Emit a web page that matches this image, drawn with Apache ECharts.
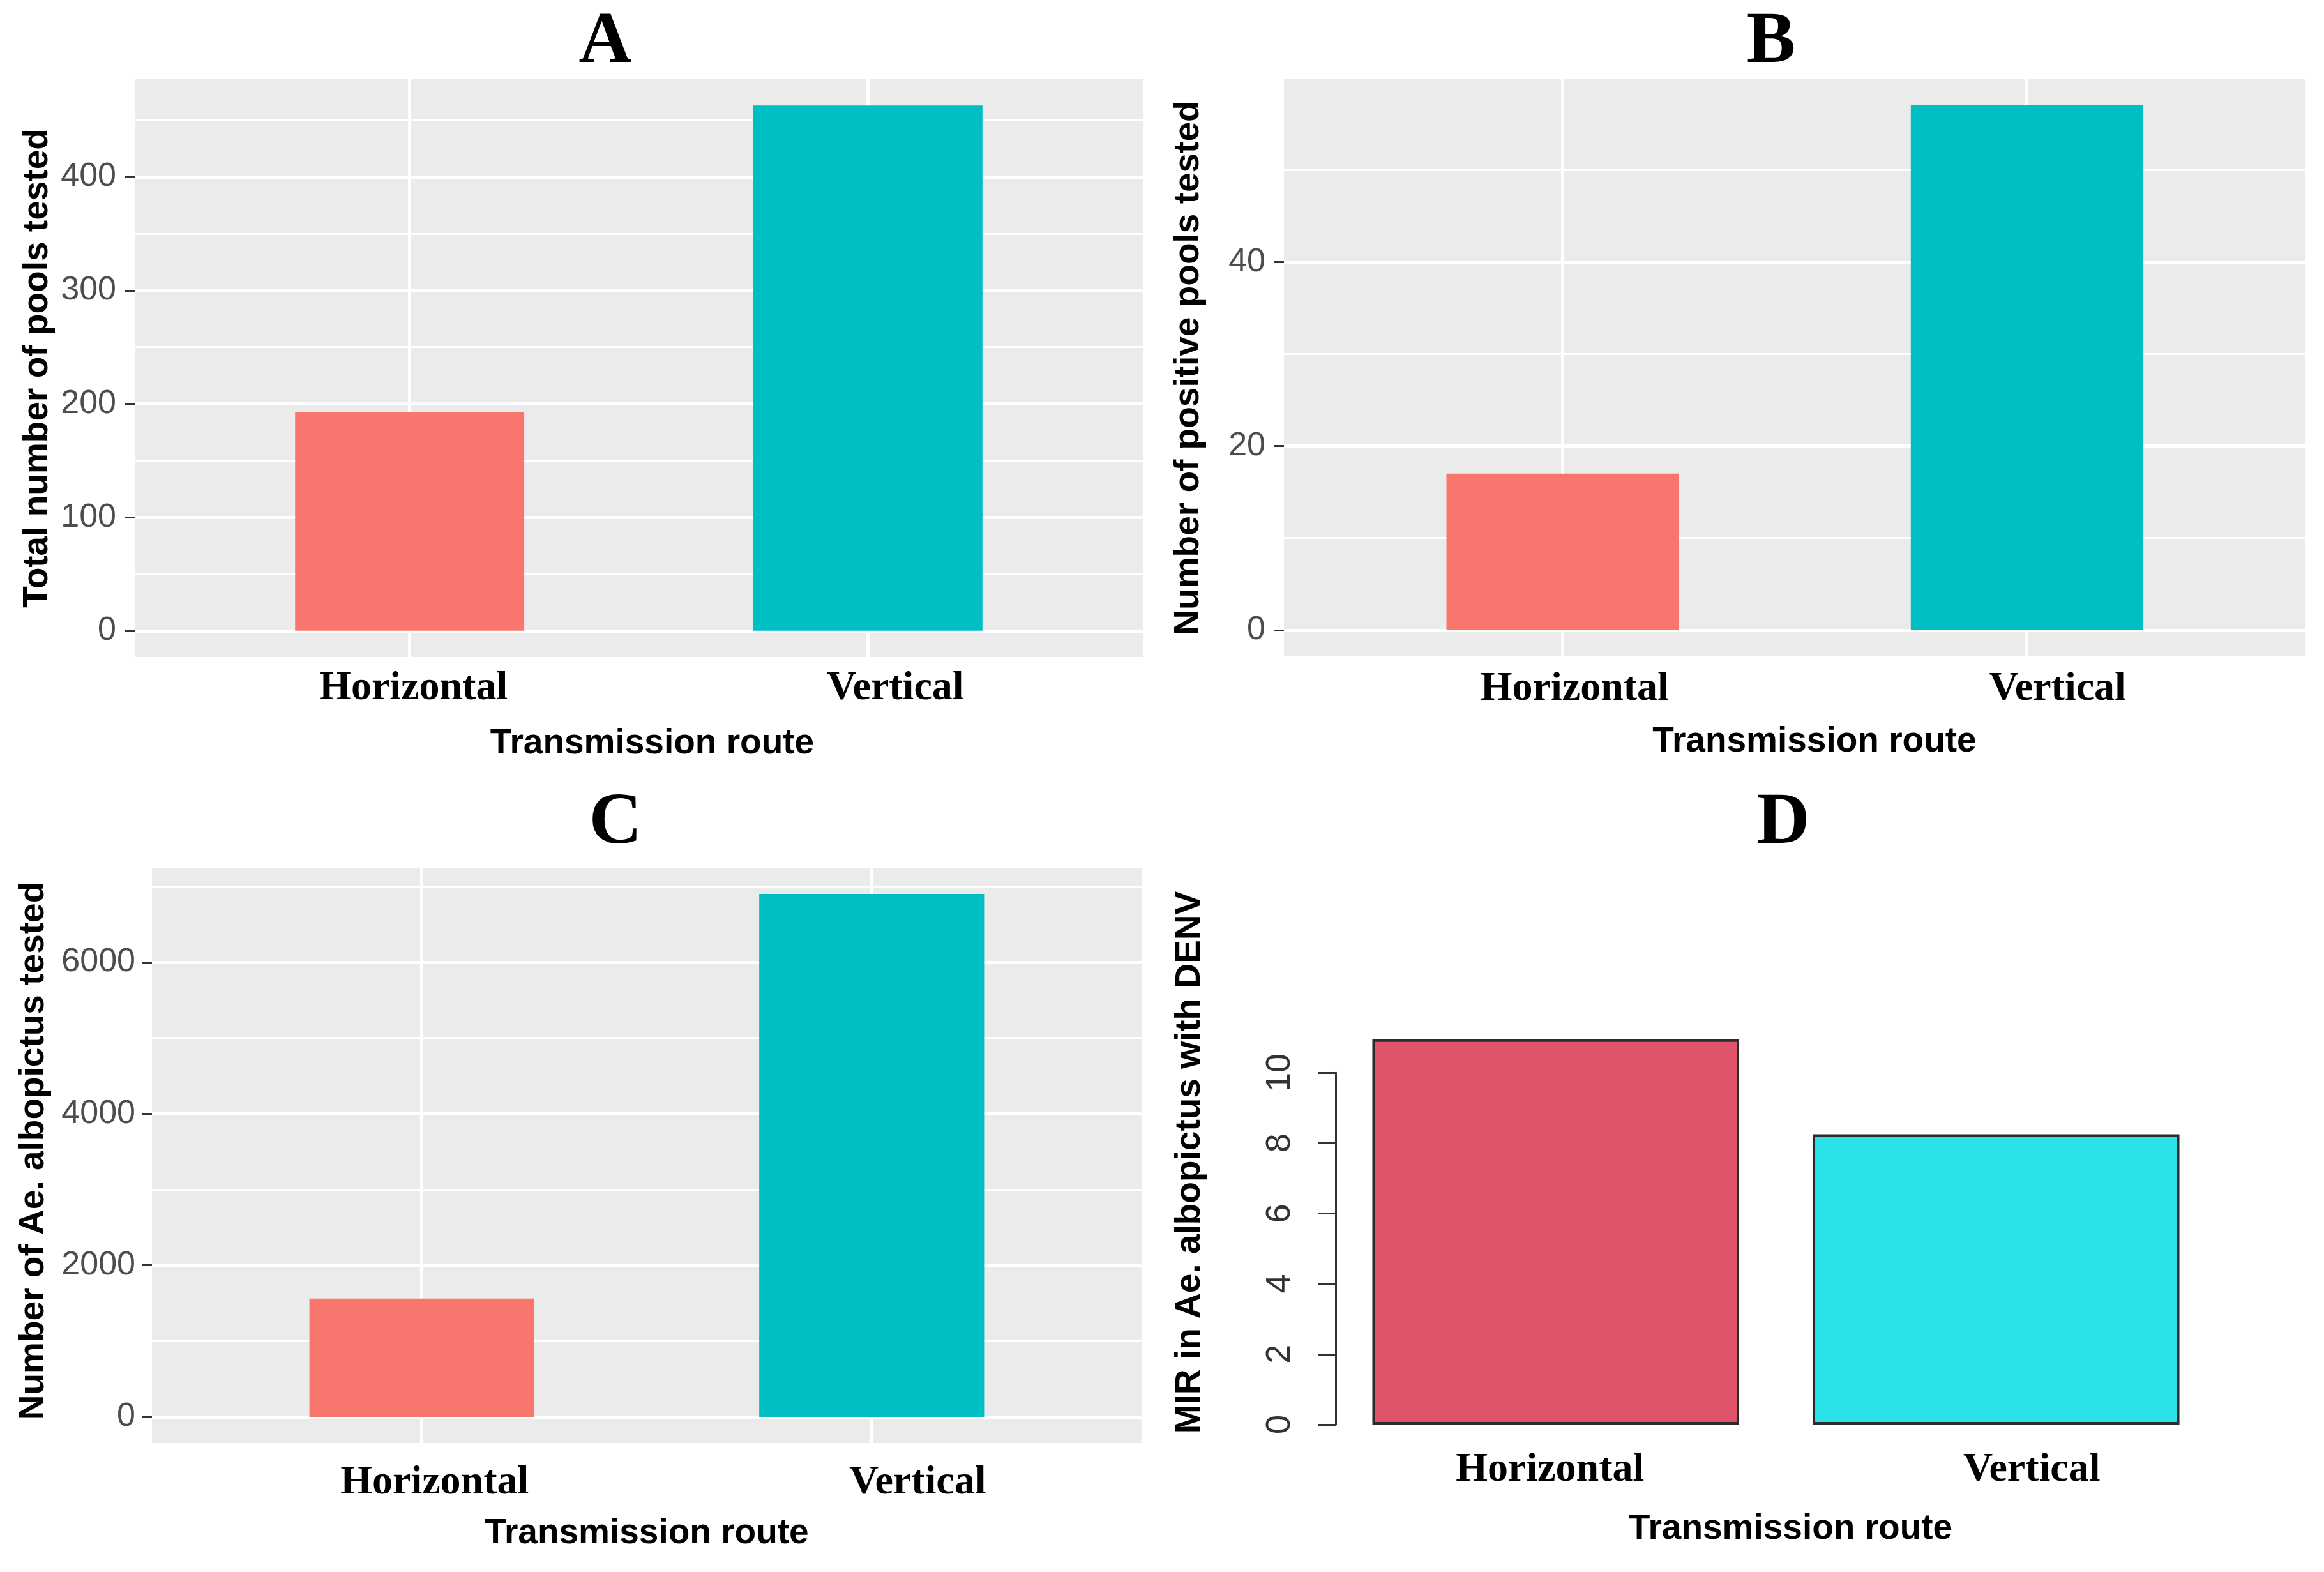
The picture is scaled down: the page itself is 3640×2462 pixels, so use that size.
<!DOCTYPE html>
<html>
<head>
    <meta charset="utf-8">
    <title>Transmission route</title>
    <script src="https://cdn.jsdelivr.net/npm/echarts@6/dist/echarts.min.js"></script>
    <style>
        html, body { margin: 0; padding: 0; background: #ffffff; }
        #chart { width: 3640px; height: 2462px; }
    </style>
</head>
<body>
<div id="chart"></div>
<script type="text/javascript">

    // categories (ggplot discrete positions 1, 2)
    var routes = ['Horizontal', 'Vertical'];
    var routePos = [1, 2];

    // A - total number of pools tested
    var poolsTested = [193, 463];
    var poolsMajor = [0, 100, 200, 300, 400];
    var poolsMinor = [50, 150, 250, 350, 450];

    // B - number of positive pools
    var positivePools = [17, 57];
    var positiveMajor = [0, 20, 40];
    var positiveMinor = [10, 30, 50];

    // C - number of Ae. albopictus tested
    var mosquitoTested = [1560, 6900];
    var mosquitoMajor = [0, 2000, 4000, 6000];
    var mosquitoMinor = [1000, 3000, 5000, 7000];

    // D - MIR with DENV
    var mirDenv = [10.95, 8.25];
    var mirTicks = [0, 2, 4, 6, 8, 10];

    var ggColors = ['#F8766D', '#00BFC4'];
    var baseColors = ['#DF536B', '#28E2E5'];

    var serif = '"Liberation Serif", "Times New Roman", serif';
    var sans = '"Liberation Sans", Arial, sans-serif';

    var grids = [], xAxes = [], yAxes = [], series = [];

    // moves each category label sideways a little, like in the figure
    function shiftRich(shift) {
        var rich = {};
        shift.forEach(function (s, k) {
            rich['c' + k] = {
                fontFamily: serif, fontWeight: 'bold', fontSize: 64, color: '#000000',
                padding: s >= 0 ? [0, 0, 0, 2 * s] : [0, -2 * s, 0, 0]
            };
        });
        return rich;
    }

    function padShift(s) {
        return s >= 0 ? [0, 0, 0, 2 * s] : [0, -2 * s, 0, 0];
    }

    function nameStyle(shift) {
        return {fontFamily: sans, fontWeight: 'bold', fontSize: 55, color: '#000000', padding: padShift(shift)};
    }

    function plainNumber(v) {
        return String(v);
    }

    // ggplot2 style panel (grey background, white grid)
    function ggPanel(box, values, major, minor, yTitle) {
        var i = grids.length;
        var hi = Math.max.apply(null, values);
        var pad = hi * 0.05;

        grids.push({
            left: box.left, top: box.top, width: box.width, height: box.height,
            show: true, backgroundColor: '#EBEBEB', borderWidth: 0
        });

        xAxes.push({
            type: 'value', gridIndex: i, min: 0.4, max: 2.6,
            axisLine: {show: false},
            axisTick: {show: true, customValues: routePos, length: 15, lineStyle: {color: '#333333', width: 3}},
            axisLabel: {
                customValues: routePos, margin: box.labelMargin,
                fontFamily: serif, fontWeight: 'bold', fontSize: 64, color: '#000000',
                formatter: function (v) {
                    var k = routePos.indexOf(v);
                    return k < 0 ? '' : '{c' + k + '|' + routes[k] + '}';
                },
                rich: shiftRich(box.labelShift)
            },
            splitLine: {show: false},
            name: 'Transmission route', nameLocation: 'middle', nameGap: box.xNameGap,
            nameTextStyle: nameStyle(box.xNameShift)
        });

        yAxes.push({
            type: 'value', gridIndex: i, min: -pad, max: hi + pad,
            axisLine: {show: false},
            axisTick: {show: true, customValues: major, length: 15, lineStyle: {color: '#333333', width: 3}},
            axisLabel: {customValues: major, margin: box.yLabelMargin, fontFamily: sans, fontSize: 52,
                        color: '#4D4D4D', formatter: plainNumber},
            splitLine: {show: false},
            name: yTitle, nameLocation: 'middle', nameRotate: 90, nameGap: box.yNameGap,
            nameTextStyle: nameStyle(box.yNameShift)
        });

        // white grid lines, kept under the bars
        var lines = [];
        major.forEach(function (v) { lines.push({yAxis: v, lineStyle: {color: '#FFFFFF', width: 5, type: 'solid'}}); });
        minor.forEach(function (v) { lines.push({yAxis: v, lineStyle: {color: '#FFFFFF', width: 3, type: 'solid'}}); });
        routePos.forEach(function (v) { lines.push({xAxis: v, lineStyle: {color: '#FFFFFF', width: 5, type: 'solid'}}); });

        series.push({
            type: 'line', xAxisIndex: i, yAxisIndex: i, data: [], z: 1, silent: true,
            markLine: {
                z: 1, silent: true, symbol: ['none', 'none'], label: {show: false},
                lineStyle: {color: '#FFFFFF', type: 'solid'},
                data: lines
            }
        });

        series.push({
            type: 'bar', xAxisIndex: i, yAxisIndex: i, z: 3, barWidth: '50%',
            data: values.map(function (v, k) {
                return {value: [routePos[k], v], itemStyle: {color: ggColors[k]}};
            })
        });
    }

    ggPanel({left: 211, top: 124, width: 1579, height: 905, labelMargin: 17, labelShift: [6, 43],
             yLabelMargin: 29, yNameGap: 125, yNameShift: 0, xNameGap: 108, xNameShift: 21},
        poolsTested, poolsMajor, poolsMinor, 'Total number of pools tested');

    ggPanel({left: 2011, top: 124, width: 1600, height: 904, labelMargin: 19, labelShift: [19, 48],
             yLabelMargin: 29, yNameGap: 122, yNameShift: 0, xNameGap: 106, xNameShift: 31},
        positivePools, positiveMajor, positiveMinor, 'Number of positive pools tested');

    ggPanel({left: 238, top: 1359, width: 1550, height: 901, labelMargin: 30, labelShift: [20, 72],
             yLabelMargin: 26, yNameGap: 158, yNameShift: 7, xNameGap: 114, xNameShift: 0},
        mosquitoTested, mosquitoMajor, mosquitoMinor, 'Number of Ae. albopictus tested');

    // D - base R barplot
    var d = grids.length;
    grids.push({left: 2092, top: 1680, width: 1379, height: 551, show: false});
    xAxes.push({
        type: 'category', gridIndex: d, data: routes,
        axisLine: {show: false}, axisTick: {show: false},
        axisLabel: {
            margin: 39, fontFamily: serif, fontWeight: 'bold', fontSize: 64, color: '#000000',
            formatter: function (v, k) { return '{c' + k + '|' + v + '}'; },
            rich: shiftRich([-9, 56])
        },
        name: 'Transmission route', nameLocation: 'middle', nameGap: 136,
        nameTextStyle: nameStyle(23)
    });
    yAxes.push({
        type: 'value', gridIndex: d, min: mirTicks[0], max: mirTicks[mirTicks.length - 1], interval: 2,
        axisLine: {show: true, lineStyle: {color: '#333333', width: 3}},
        axisTick: {show: true, length: 28, lineStyle: {color: '#333333', width: 3}},
        axisLabel: {rotate: 90, margin: 60, fontFamily: sans, fontSize: 54, color: '#333333', formatter: plainNumber},
        splitLine: {show: false},
        name: 'MIR in Ae. albopictus with DENV', nameLocation: 'middle', nameRotate: 90, nameGap: 201,
        nameTextStyle: nameStyle(135)
    });
    series.push({
        type: 'bar', xAxisIndex: d, yAxisIndex: d, barWidth: '83.33%', clip: false,
        data: mirDenv.map(function (v, k) {
            return {value: v, itemStyle: {color: baseColors[k], borderColor: '#2B2B2B', borderWidth: 4}};
        })
    });

    // panel letters
    var letters = [
        {t: 'A', x: 948, y: 67},
        {t: 'B', x: 2774, y: 67},
        {t: 'C', x: 964, y: 1290},
        {t: 'D', x: 2793, y: 1290}
    ];

    var myChart = echarts.init(document.getElementById('chart'));
    myChart.setOption({
        animation: false,
        backgroundColor: '#FFFFFF',
        grid: grids,
        xAxis: xAxes,
        yAxis: yAxes,
        series: series,
        graphic: letters.map(function (l) {
            return {
                type: 'text', x: l.x, y: l.y, silent: true,
                style: {
                    text: l.t, align: 'center', verticalAlign: 'middle',
                    fontFamily: serif, fontWeight: 'bold', fontSize: 115, fill: '#000000'
                }
            };
        })
    });

</script>
</body>
</html>
